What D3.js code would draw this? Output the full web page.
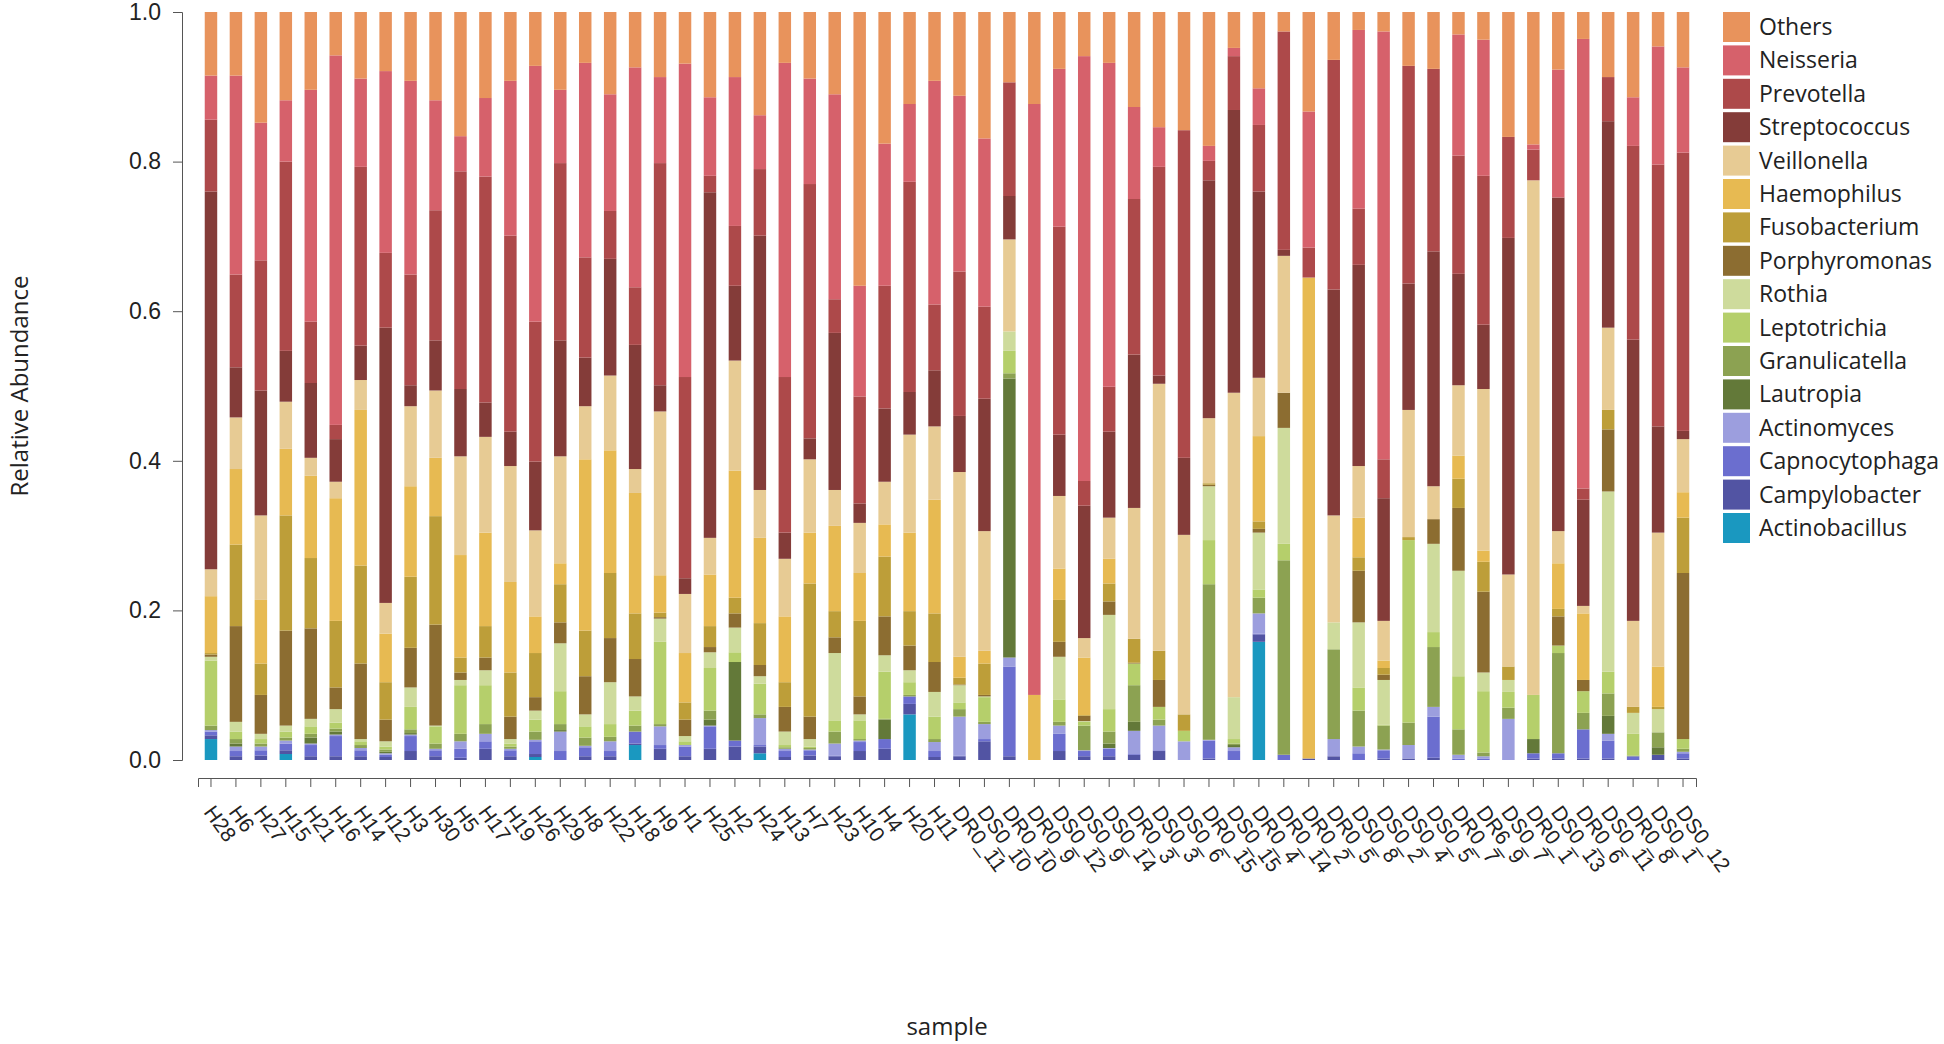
<!DOCTYPE html>
<html>
<head>
<meta charset="utf-8">
<script src="https://cdn.jsdelivr.net/npm/d3@7"></script>
<style>
  body { margin: 0; background: #fff; }
  svg { font-family: "Open Sans", sans-serif; }
  .axis path, .axis line { stroke: #555; }
  .axis text { fill: #222; }
</style>
</head>
<body>
<svg width="1944" height="1044"></svg>
<script>
const samples = ['H28', 'H6', 'H27', 'H15', 'H21', 'H16', 'H14', 'H12', 'H3', 'H30',
  'H5', 'H17', 'H19', 'H26', 'H29', 'H8', 'H22', 'H18', 'H9', 'H1',
  'H25', 'H2', 'H24', 'H13', 'H7', 'H23', 'H10', 'H4', 'H20', 'H11',
  'DR0_11', 'DS0_10', 'DR0_10', 'DR0_9', 'DS0_12', 'DS0_9', 'DS0_14', 'DR0_3', 'DS0_3', 'DS0_6',
  'DR0_15', 'DS0_15', 'DR0_4', 'DR0_14', 'DR0_2', 'DR0_5', 'DS0_8', 'DS0_2', 'DS0_4', 'DS0_5',
  'DR0_7', 'DR6_9', 'DS0_7', 'DR0_1', 'DS0_13', 'DR0_6', 'DS0_11', 'DR0_8', 'DS0_1', 'DS0_12'];

// stack order, bottom to top
const genera = ['Actinobacillus', 'Campylobacter', 'Capnocytophaga', 'Actinomyces', 'Lautropia',
  'Granulicatella', 'Leptotrichia', 'Rothia', 'Porphyromonas', 'Fusobacterium', 'Haemophilus',
  'Veillonella', 'Streptococcus', 'Prevotella', 'Neisseria', 'Others'];

const colors = ['#1a98c0', '#5254a3', '#6b6ecf', '#9c9ede', '#637939',
  '#8ca252', '#b5cf6b', '#cedb9c', '#8c6d31', '#bd9e39', '#e7ba52',
  '#e7cb94', '#843c39', '#ad494a', '#d6616b', '#e8935c'];

const actinobacillus = [.028, 0, 0, .008, 0, 0, 0, 0, 0, 0, 0, 0, 0, .004, 0, 0, 0, .020, 0, 0,
  0, 0, .009, 0, 0, 0, 0, 0, .061, 0, 0, 0, 0, 0, 0, 0, 0, 0, 0, 0,
  0, 0, .158, 0, 0, 0, 0, 0, 0, 0, 0, 0, 0, 0, 0, 0, 0, 0, 0, 0];
const campylobacter = [.005, .005, .006, .005, .005, .005, .005, .004, .012, .005, .003, .015, .005, .004, 0, .005, .005, .002, .015, .005,
  .015, .018, .009, .004, .006, .005, .012, .015, .014, .004, .005, .025, .005, 0, .012, .005, .005, .007, .012, 0,
  .002, 0, .010, 0, .002, .005, 0, .002, .002, .003, 0, 0, 0, .002, .002, .002, .002, 0, .007, .002];
const capnocytophaga = [.005, .007, .007, .009, .015, .027, .008, .003, .020, .008, .012, .010, .008, .017, .012, .012, .007, .016, .005, .013,
  .030, .008, .002, .008, .007, .001, .012, .013, .010, .008, .001, .003, .120, 0, .023, .007, .010, .001, .001, 0,
  .024, .012, .001, .007, 0, 0, .009, .011, 0, .055, .002, .002, 0, .007, .007, .039, .024, .005, 0, .007];
const actinomyces = [.002, .006, .005, .004, .002, .002, .003, .002, .002, .002, .010, .010, .002, .002, .026, .002, .013, 0, .025, .002,
  .001, 0, .036, .003, .001, .016, .002, 0, 0, .012, .052, .020, .012, 0, .011, .001, .001, .031, .033, .025,
  .001, .005, .027, 0, 0, .023, .009, .001, .018, .013, .005, .003, .055, 0, 0, 0, .009, 0, 0, .002];
const lautropia = [0, .004, 0, 0, .008, .004, 0, .002, .002, 0, 0, 0, 0, 0, .002, 0, 0, 0, 0, 0,
  .008, .105, 0, 0, 0, 0, 0, .026, 0, 0, 0, 0, .373, 0, 0, 0, .006, .012, 0, 0,
  0, .003, 0, 0, 0, 0, 0, 0, 0, 0, 0, 0, 0, .019, 0, 0, .024, 0, .010, 0];
const granulicatella = [.006, .006, .004, .004, .005, .004, .004, .003, .005, .007, .010, .013, .003, .011, .008, .011, .006, .008, .003, 0,
  .012, 0, .005, .002, .002, .016, .002, .001, .002, .004, .010, .003, .007, 0, .005, .033, .016, .049, .008, 0,
  .208, .002, .021, .260, 0, .120, .048, .032, .030, .080, .034, .005, .015, 0, .134, .022, .030, .001, .020, .004];
const leptotrichia = [.087, .010, .006, .008, .010, .008, .005, .004, .030, .023, .065, .052, .004, .016, .044, .015, .017, .020, .110, .005,
  .057, .013, .041, .003, .002, .015, .025, .063, .017, .030, .009, .033, .030, 0, .030, .005, .030, .029, .017, .014,
  .059, .006, .011, .022, 0, 0, .031, .001, .244, .020, .071, .082, .021, .059, .010, .029, .029, .029, 0, .013];
const rothia = [.005, .013, .007, .008, .010, .018, .003, .007, .026, .001, .007, .020, .006, .012, .064, .016, .056, .019, .031, .007,
  .021, .033, .010, .018, .010, .090, .008, .022, .016, .033, .023, .001, .026, 0, .057, .001, .126, 0, 0, 0,
  .072, .056, .076, .155, 0, .036, .087, .060, 0, .118, .141, .025, .016, 0, 0, 0, .241, .028, .031, 0];
const porphyromonas = [.003, .128, .052, .127, .121, .029, .101, .029, .053, .135, .010, .017, .030, .018, .028, .051, .059, .050, .002, .022,
  .007, .019, .015, .033, .030, .021, .024, .052, .033, .040, .001, .002, 0, 0, .020, .007, .018, .001, .036, 0,
  .002, 0, .005, .047, 0, 0, .069, .007, 0, .033, .084, .108, 0, 0, .039, .015, .083, 0, 0, .222];
const fusobacterium = [.002, .109, .042, .154, .094, .089, .131, .050, .095, .145, .020, .042, .059, .059, .051, .061, .087, .061, .006, .023,
  .028, .021, .056, .033, .178, .035, .101, .080, .046, .065, .009, .042, 0, 0, .056, .001, .024, .032, .039, .022,
  .002, 0, .010, 0, 0, 0, .018, .009, .004, 0, .039, .040, .018, 0, .010, 0, .026, .008, .003, .074];
const haemophilus = [.076, .101, .085, .089, .110, .164, .208, .065, .121, .078, .137, .125, .121, .049, .028, .229, .164, .161, .050, .066,
  .069, .170, .114, .088, .068, .114, .064, .043, .105, .152, .028, .017, 0, .087, .042, .077, .033, 0, 0, 0,
  0, 0, .114, 0, .643, 0, .053, .010, 0, 0, .031, .015, 0, 0, .061, .089, 0, 0, .054, .034];
const veillonella = [.036, .069, .113, .063, .024, .022, .040, .041, .107, .090, .132, .128, .155, .115, .143, .071, .100, .032, .219, .079,
  .049, .147, .064, .077, .098, .048, .067, .057, .131, .098, .247, .160, .123, 0, .097, .026, .055, .175, .357, .240,
  .087, .407, .078, .183, 0, .143, .069, .053, .170, .044, .094, .216, .123, .688, .043, .010, .110, .115, .179, .071];
const streptococcus = [.505, .067, .167, .068, .100, .057, .046, .368, .028, .067, .090, .046, .046, .092, .155, .065, .156, .166, .035, .021,
  .462, .100, .340, .035, .028, .210, .026, .098, .057, .075, .075, .177, .058, 0, .082, .177, .115, .205, .011, .103,
  .318, .378, .249, .008, 0, .302, .269, .164, .169, .314, .149, .086, .450, 0, .446, .142, .276, .376, .142, .011];
const prevotella = [.096, .124, .174, .253, .082, .019, .239, .100, .148, .174, .291, .302, .262, .187, .237, .134, .064, .077, .297, .269,
  .022, .080, .089, .208, .340, .045, .143, .164, .281, .088, .193, .123, .152, 0, .278, .033, .060, .208, .279, .438,
  .026, .072, .089, .292, .040, .307, .075, .052, .291, .244, .158, .199, .135, .041, 0, .015, .059, .259, .350, .372];
const neisseria = [.059, .266, .184, .082, .310, .494, .118, .243, .259, .147, .047, .105, .207, .342, .098, .260, .156, .294, .115, .419,
  .105, .199, .072, .420, .141, .274, .148, .190, .104, .299, .235, .225, 0, .790, .211, .568, .433, .123, .053, 0,
  .020, .011, .049, 0, .182, 0, .239, .572, 0, 0, .162, .182, 0, .007, .171, .601, 0, .065, .158, .114];
const others = [.085, .085, .148, .118, .104, .058, .089, .079, .092, .118, .166, .115, .092, .072, .104, .068, .110, .074, .087, .069,
  .114, .087, .138, .068, .089, .110, .366, .176, .123, .092, .112, .169, .094, .123, .076, .059, .068, .127, .154, .158,
  .179, .048, .102, .026, .133, .064, .024, .026, .072, .076, .030, .037, .167, .177, .077, .036, .087, .114, .046, .074];

const series = [actinobacillus, campylobacter, capnocytophaga, actinomyces, lautropia, granulicatella,
  leptotrichia, rothia, porphyromonas, fusobacterium, haemophilus, veillonella, streptococcus,
  prevotella, neisseria, others];

const yTicks = [0, 0.2, 0.4, 0.6, 0.8, 1.0];

// sample names repeat (DS0_12 twice), so bars are keyed by position
const rows = samples.map((s, i) => {
  const row = { idx: i, sample: s };
  genera.forEach((g, j) => { row[g] = series[j][i]; });
  return row;
});

const svg = d3.select('svg');
const plot = { left: 198, right: 1696, top: 12, bottom: 760 };

const x = d3.scaleBand()
  .domain(d3.range(samples.length))
  .range([plot.left, plot.right])
  .paddingInner(0.5)
  .paddingOuter(0.27);

const y = d3.scaleLinear()
  .domain([0, 1])
  .range([plot.bottom, plot.top]);

const color = d3.scaleOrdinal().domain(genera).range(colors);

const stacked = d3.stack().keys(genera)(rows);

svg.append('g')
  .selectAll('g')
  .data(stacked)
  .join('g')
  .attr('fill', d => color(d.key))
  .selectAll('rect')
  .data(d => d)
  .join('rect')
  .attr('x', d => x(d.data.idx))
  .attr('y', d => y(Math.min(1, d[1])))
  .attr('width', x.bandwidth())
  .attr('height', d => Math.max(0, y(d[0]) - y(Math.min(1, d[1]))));

// y axis, offset left of the bars
const yAxis = svg.append('g')
  .attr('class', 'axis')
  .attr('transform', 'translate(182,0)')
  .call(d3.axisLeft(y).tickValues(yTicks).tickFormat(d3.format('.1f')).tickSize(9).tickPadding(12));
yAxis.selectAll('text').style('font-size', '23px');

// x axis, offset below the bars
const xAxis = svg.append('g')
  .attr('class', 'axis')
  .attr('transform', 'translate(0,778)')
  .call(d3.axisBottom(x).tickSize(9).tickFormat(i => samples[i]));
xAxis.selectAll('text')
  .style('font-size', '21px')
  .style('text-anchor', 'start')
  .attr('x', 0)
  .attr('y', 0)
  .attr('dy', '0.35em')
  .attr('transform', 'translate(-2,30) rotate(54)');

svg.append('text')
  .attr('x', (plot.left + plot.right) / 2)
  .attr('y', 1035)
  .attr('text-anchor', 'middle')
  .style('font-size', '24px')
  .attr('fill', '#222')
  .text('sample');

svg.append('text')
  .attr('transform', `translate(28,${(plot.top + plot.bottom) / 2}) rotate(-90)`)
  .attr('text-anchor', 'middle')
  .style('font-size', '24px')
  .attr('fill', '#222')
  .text('Relative Abundance');

// legend, top entry is the top of the stack
const legend = svg.append('g')
  .attr('transform', 'translate(1723,12)')
  .selectAll('g')
  .data(genera.slice().reverse())
  .join('g')
  .attr('transform', (d, i) => `translate(0,${i * 33.4})`);

legend.append('rect')
  .attr('width', 27)
  .attr('height', 30)
  .attr('fill', d => color(d));

legend.append('text')
  .attr('x', 36)
  .attr('y', 15)
  .attr('dy', '0.35em')
  .style('font-size', '23px')
  .attr('fill', '#222')
  .text(d => d);
</script>
</body>
</html>
